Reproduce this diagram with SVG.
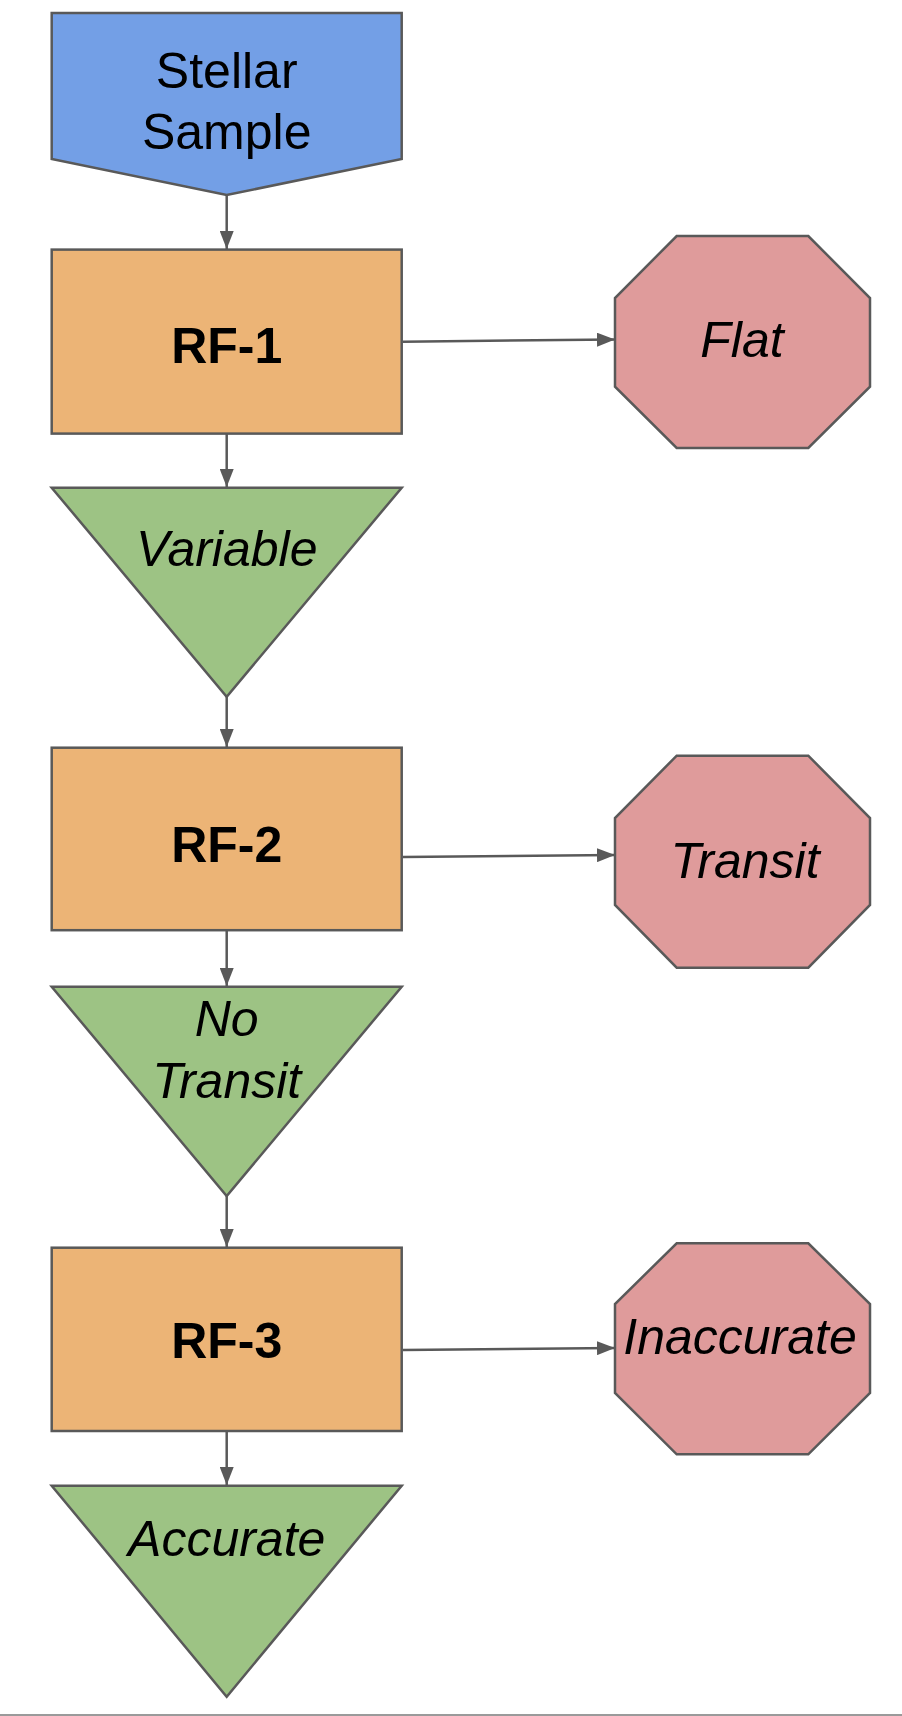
<svg xmlns="http://www.w3.org/2000/svg" width="902" height="1716" viewBox="0 0 902 1716">
<defs>
<marker id="ah" markerWidth="18" markerHeight="14" refX="18" refY="7" orient="auto" markerUnits="userSpaceOnUse">
<path d="M0,0 L18,7 L0,14 Z" fill="#595959"/>
</marker>
<style>
.sh{stroke:#595959;stroke-width:2.5;stroke-linejoin:miter}
.blue{fill:#739fe6}
.orange{fill:#ecb476}
.green{fill:#9dc384}
.red{fill:#df9b9b}
.t{font-family:"Liberation Sans",Arial,sans-serif;font-size:50px;fill:#000;text-anchor:middle}
.b{font-weight:bold}
.i{font-style:italic}
.c{stroke:#595959;stroke-width:2.5;fill:none;marker-end:url(#ah)}
</style>
</defs>
<rect x="0" y="0" width="902" height="1716" fill="#ffffff"/>
<line x1="0" y1="1715" x2="902" y2="1715" stroke="#9a9a9a" stroke-width="2"/>

<g id="stellar-sample">
<polygon class="sh blue" points="51.7,13 401.7,13 401.7,159 226.7,195 51.7,159"/>
<text class="t" x="226.7" y="88">Stellar</text>
<text class="t" x="226.7" y="149">Sample</text>
</g>

<g id="rf1">
<rect class="sh orange" x="51.7" y="249.6" width="350" height="184"/>
<text class="t b" x="226.7" y="363">RF-1</text>
</g>

<g id="flat">
<polygon class="sh red" points="676.7,236 808.3,236 870,298 870,386.7 808.3,448 676.7,448 615,386.7 615,298"/>
<text class="t i" x="742" y="357">Flat</text>
</g>

<g id="variable">
<polygon class="sh green" points="51.7,487.7 401.7,487.7 226.7,696.7"/>
<text class="t i" x="226.7" y="566">Variable</text>
</g>

<g id="rf2">
<rect class="sh orange" x="51.7" y="747.7" width="350" height="182.5"/>
<text class="t b" x="226.7" y="862">RF-2</text>
</g>

<g id="transit">
<polygon class="sh red" points="676.7,755.7 808.3,755.7 870,818 870,905 808.3,967.7 676.7,967.7 615,905 615,818"/>
<text class="t i" x="745" y="877.5">Transit</text>
</g>

<g id="no-transit">
<polygon class="sh green" points="51.7,986.7 401.7,986.7 226.7,1196"/>
<text class="t i" x="226.7" y="1036">No</text>
<text class="t i" x="226.7" y="1097.7">Transit</text>
</g>

<g id="rf3">
<rect class="sh orange" x="51.7" y="1247.7" width="350" height="183.3"/>
<text class="t b" x="226.7" y="1358">RF-3</text>
</g>

<g id="inaccurate">
<polygon class="sh red" points="676.7,1243.3 808.3,1243.3 870,1304 870,1393 808.3,1454.3 676.7,1454.3 615,1393 615,1304"/>
<text class="t i" x="740" y="1354.3">Inaccurate</text>
</g>

<g id="accurate">
<polygon class="sh green" points="51.7,1485.7 401.7,1485.7 226.7,1696.7"/>
<text class="t i" x="226.7" y="1555.7">Accurate</text>
</g>

<g id="connectors">
<line class="c" x1="226.7" y1="195" x2="226.7" y2="249"/>
<line class="c" x1="226.7" y1="433.6" x2="226.7" y2="487"/>
<line class="c" x1="226.7" y1="696.7" x2="226.7" y2="747"/>
<line class="c" x1="226.7" y1="930.2" x2="226.7" y2="986"/>
<line class="c" x1="226.7" y1="1196" x2="226.7" y2="1247"/>
<line class="c" x1="226.7" y1="1431" x2="226.7" y2="1485"/>
<line class="c" x1="402.9" y1="341.7" x2="615" y2="339.5"/>
<line class="c" x1="402.9" y1="857" x2="615" y2="855"/>
<line class="c" x1="402.9" y1="1350" x2="615" y2="1348"/>
</g>
</svg>
